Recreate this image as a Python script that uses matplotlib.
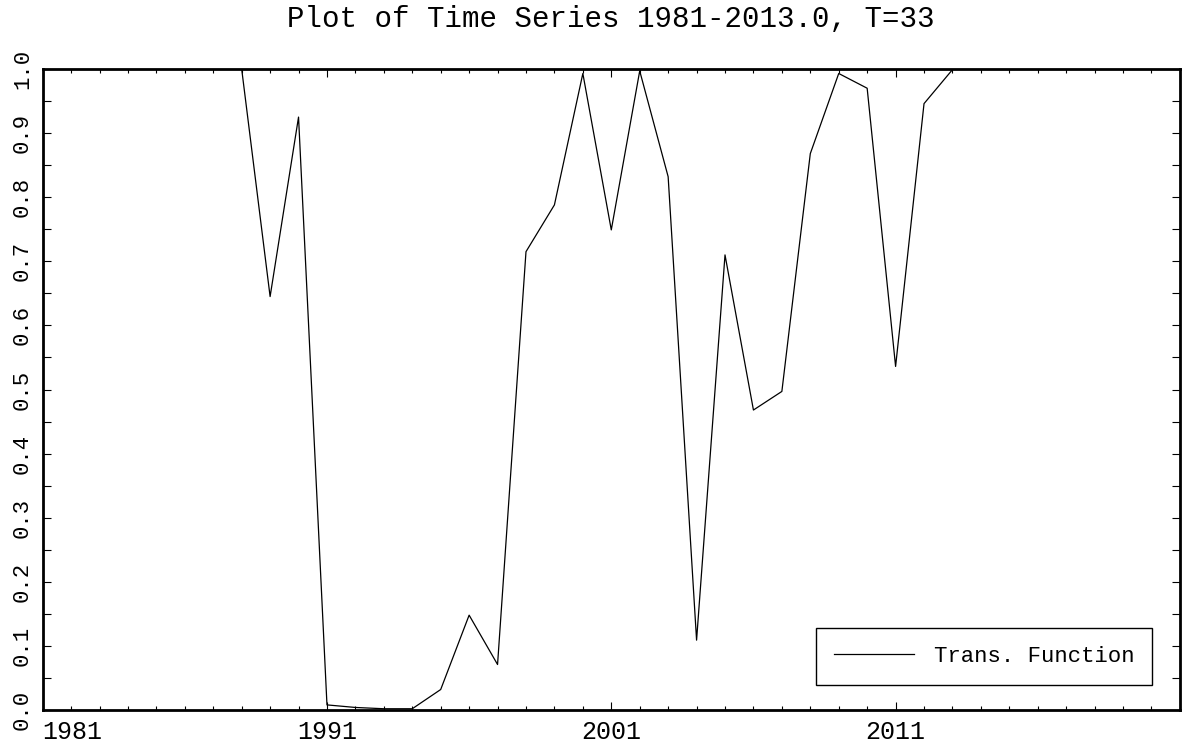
import matplotlib
matplotlib.use("Agg")
import matplotlib.pyplot as plt
from matplotlib.ticker import MultipleLocator, FormatStrFormatter


# datos
anios = [1981, 1982, 1983, 1984, 1985, 1986, 1987, 1988, 1989, 1990,
         1991, 1992, 1993, 1994, 1995, 1996, 1997, 1998, 1999, 2000,
         2001, 2002, 2003, 2004, 2005, 2006, 2007, 2008, 2009, 2010,
         2011, 2012, 2013]
valores = [1.0, 1.0, 1.0, 1.0, 1.0, 1.0, 1.0, 1.0, 0.645, 0.925,
           0.008, 0.004, 0.002, 0.002, 0.032, 0.148, 0.071, 0.715, 0.788, 0.993,
           0.749, 0.997, 0.832, 0.109, 0.710, 0.468, 0.497, 0.868, 0.993, 0.970,
           0.536, 0.946, 0.999]
etiquetas_x = [1981, 1991, 2001, 2011]
titulo = "Plot of Time Series 1981-2013.0, T=33"
leyenda = "Trans. Function"

FUENTE = "Liberation Mono"

fig = plt.figure(figsize=(11.85, 7.5), dpi=100)
ax = fig.add_axes([0.036, 0.0533, 0.9597, 0.8547])

ax.plot(anios, valores, color="black", linewidth=0.9, label=leyenda)

ax.set_xlim(1981, 2021)
ax.set_ylim(0.0, 1.0)

ax.set_xticks(etiquetas_x)
ax.xaxis.set_minor_locator(MultipleLocator(1))
ax.yaxis.set_major_locator(MultipleLocator(0.1))
ax.yaxis.set_minor_locator(MultipleLocator(0.05))
ax.yaxis.set_major_formatter(FormatStrFormatter("%.1f"))

for lado in ["left", "right", "top", "bottom"]:
    ax.spines[lado].set_linewidth(2.0)

ax.tick_params(axis="both", which="both", direction="in", top=True, right=True, width=0.8)
ax.tick_params(axis="x", which="major", length=6, pad=7)
ax.tick_params(axis="x", which="minor", length=3)
ax.tick_params(axis="y", which="both", length=6, pad=7)

etiquetas = ax.get_xticklabels()
for et in etiquetas:
    et.set_fontfamily(FUENTE)
    et.set_fontsize(18)
# la primera etiqueta queda corrida a la derecha, como en el original
etiquetas[0].set_horizontalalignment("left")

for et in ax.get_yticklabels():
    et.set_fontfamily(FUENTE)
    et.set_fontsize(16)
    et.set_rotation(90)
    et.set_va("center")

fig.text(0.5156, 0.974, titulo, ha="center", va="center",
         fontfamily=FUENTE, fontsize=21)

leg = ax.legend(loc="lower right", bbox_to_anchor=(1152 / 1185, 65 / 750),
                bbox_transform=fig.transFigure, borderaxespad=0,
                prop={"family": FUENTE, "size": 16},
                handlelength=3.6, handletextpad=0.9, borderpad=0.8,
                fancybox=False, framealpha=1, edgecolor="black")
leg.get_frame().set_linewidth(1.0)

fig.savefig("out.png", dpi=100)
